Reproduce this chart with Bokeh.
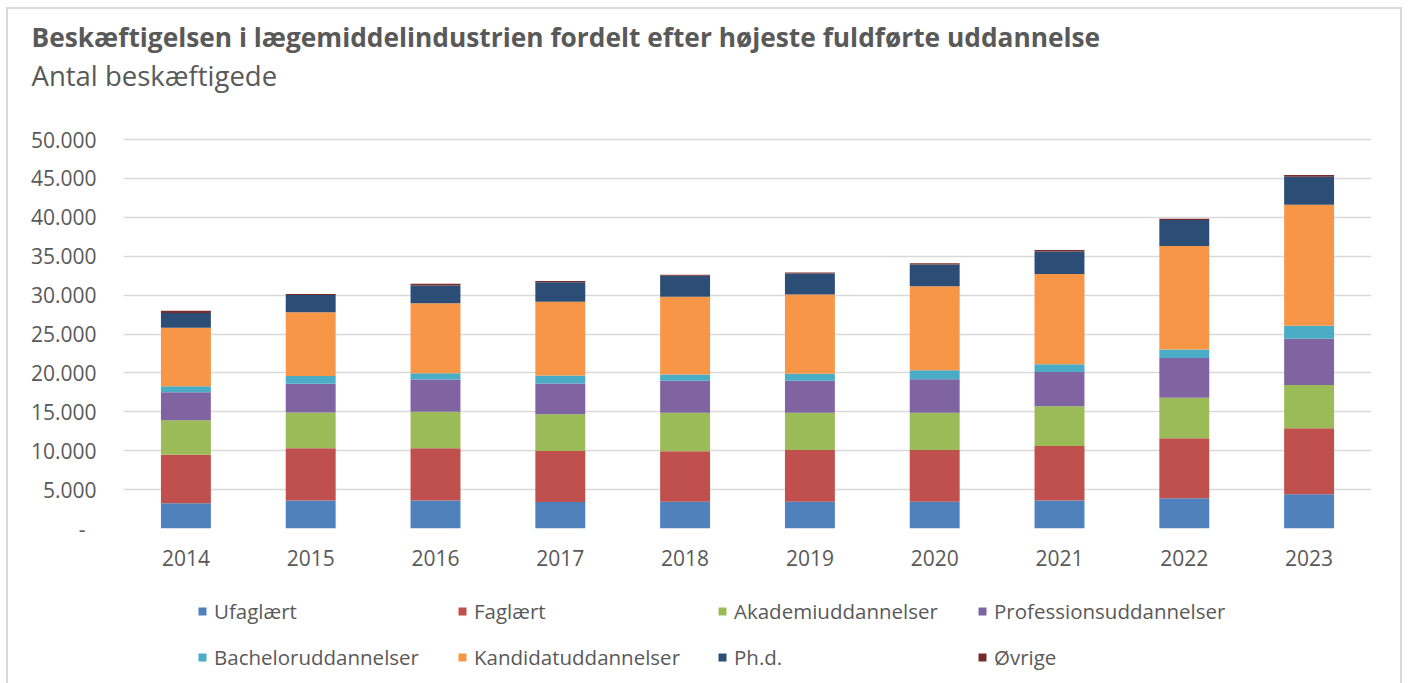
from bokeh.plotting import figure
from bokeh.layouts import column
from bokeh.models import (ColumnDataSource, Legend, LegendItem, Title,
                          CustomJSTickFormatter, FixedTicker)
from bokeh.embed import file_html
from bokeh.resources import INLINE

years = ["2014", "2015", "2016", "2017", "2018", "2019", "2020", "2021", "2022", "2023"]

ufaglaert = [3250, 3600, 3600, 3400, 3430, 3430, 3430, 3600, 3900, 4400]
faglaert = [6220, 6700, 6700, 6550, 6500, 6650, 6650, 7000, 7700, 8500]
akademi = [4430, 4600, 4700, 4750, 4950, 4800, 4800, 5100, 5200, 5550]
profession = [3600, 3700, 4150, 3950, 4100, 4100, 4300, 4400, 5100, 5950]
bachelor = [800, 1000, 800, 1000, 800, 900, 1150, 1000, 1100, 1650]
kandidat = [7500, 8200, 9000, 9500, 10000, 10200, 10800, 11600, 13300, 15550]
phd = [1900, 2200, 2300, 2500, 2700, 2700, 2800, 2900, 3350, 3600]
oevrige = [300, 150, 200, 150, 150, 120, 150, 200, 150, 250]

series_names = ["Ufaglært", "Faglært", "Akademiuddannelser", "Professionsuddannelser",
                "Bacheloruddannelser", "Kandidatuddannelser", "Ph.d.", "Øvrige"]
series_values = [ufaglaert, faglaert, akademi, profession, bachelor, kandidat, phd, oevrige]
colors = ["#4F81BD", "#C0504D", "#9BBB59", "#8064A2", "#4BACC6", "#F79646", "#2C4D75", "#772C2A"]

title_text = "Beskæftigelsen i lægemiddelindustrien fordelt efter højeste fuldførte uddannelse"
subtitle_text = "Antal beskæftigede"
y_ticks = [0, 5000, 10000, 15000, 20000, 25000, 30000, 35000, 40000, 45000, 50000]

FONT = "Open Sans"
TXT = "#595959"
GRID = "#d9d9d9"

data = {"year": years}
keys = []
for i, vals in enumerate(series_values):
    k = f"s{i}"
    keys.append(k)
    data[k] = vals
source = ColumnDataSource(data)

# frame geometry: 0 at y=528, 50.000 at y=139 (page px); frame top a bit higher
FRAME_TOP = 93
FRAME_BOTTOM = 528
y_end = 50000 * (FRAME_BOTTOM - FRAME_TOP) / (FRAME_BOTTOM - 139)

# ---------------- main chart ----------------
p = figure(x_range=years, y_range=(0, y_end), width=1408, height=590,
           output_backend="svg", toolbar_location=None,
           min_border_left=123, min_border_right=37, min_border_top=FRAME_TOP,
           min_border_bottom=590 - FRAME_BOTTOM)
p.background_fill_color = "white"
p.border_fill_alpha = 0
p.outline_line_color = None
p.styles = {"box-shadow": ("inset 6px 0 0 0 #ffffff, inset 0 7px 0 0 #ffffff, "
                           "inset -6px 0 0 0 #ffffff, inset 8px 0 0 0 #d9d9d9, "
                           "inset 0 9px 0 0 #d9d9d9, inset -8px 0 0 0 #d9d9d9")}

renderers = p.vbar_stack(keys, x="year", width=0.4, source=source, color=colors,
                         line_color=None)

p.xaxis.axis_line_color = None
p.xaxis.major_tick_line_color = None
p.xaxis.minor_tick_line_color = None
p.xaxis.major_label_text_font = FONT
p.xaxis.major_label_text_font_size = "21px"
p.xaxis.major_label_text_color = TXT
p.xaxis.major_label_standoff = 15

p.yaxis.axis_line_color = None
p.yaxis.major_tick_line_color = None
p.yaxis.minor_tick_line_color = None
p.yaxis.ticker = FixedTicker(ticks=y_ticks)
p.yaxis.formatter = CustomJSTickFormatter(code="""
    if (tick == 0) { return '-\\u00a0\\u00a0'; }
    return Math.round(tick).toFixed(0).replace(/\\B(?=(\\d{3})+(?!\\d))/g, '.');
""")
p.yaxis.major_label_text_font = FONT
p.yaxis.major_label_text_font_size = "21px"
p.yaxis.major_label_text_color = TXT
p.yaxis.major_label_standoff = 21

p.xgrid.grid_line_color = None
p.ygrid.grid_line_color = GRID
p.ygrid.grid_line_width = 1.5
p.ygrid.ticker = FixedTicker(ticks=y_ticks)

# titles (subtitle first: it sits closest to the frame)
p.add_layout(Title(text=subtitle_text, align="left", offset=-92, standoff=0,
                   text_font=FONT, text_font_style="normal", text_font_size="27.5px",
                   text_color=TXT), "above")
p.add_layout(Title(text=title_text, align="left", offset=-92, standoff=0,
                   text_font=FONT, text_font_style="bold", text_font_size="26.3px",
                   text_color=TXT), "above")

# ---------------- legend strip ----------------
q = figure(width=1408, height=93, x_range=(0, 1), y_range=(0, 1),
           output_backend="svg", toolbar_location=None,
           x_axis_type=None, y_axis_type=None,
           min_border_left=0, min_border_right=0, min_border_top=0, min_border_bottom=0)
q.outline_line_color = None
q.xgrid.grid_line_color = None
q.ygrid.grid_line_color = None
q.background_fill_alpha = 0
q.border_fill_alpha = 0
q.styles = {"box-shadow": ("inset 6px 0 0 0 #ffffff, inset -6px 0 0 0 #ffffff, "
                           "inset 8px 0 0 0 #d9d9d9, inset -8px 0 0 0 #d9d9d9")}

# legend proxies: one zero-height bar each, placed outside the visible range
proxies = [q.vbar(x=[-5], top=[0], width=0.1, color=c, line_color=None) for c in colors]
items = [LegendItem(label=series_names[i], renderers=[proxies[i]]) for i in range(8)]
leg = Legend(items=items, location=(74, 12), orientation="horizontal", ncols=4,
             glyph_width=10, glyph_height=10, label_standoff=7, spacing=18,
             label_width=225, padding=0, margin=0, border_line_color=None,
             background_fill_alpha=0, label_text_font=FONT,
             label_text_font_size="20.5px", label_text_color=TXT, label_height=20)
q.add_layout(leg, "center")

layout = column(p, q, spacing=0)

open("out.html", "w").write(file_html(layout, INLINE))
